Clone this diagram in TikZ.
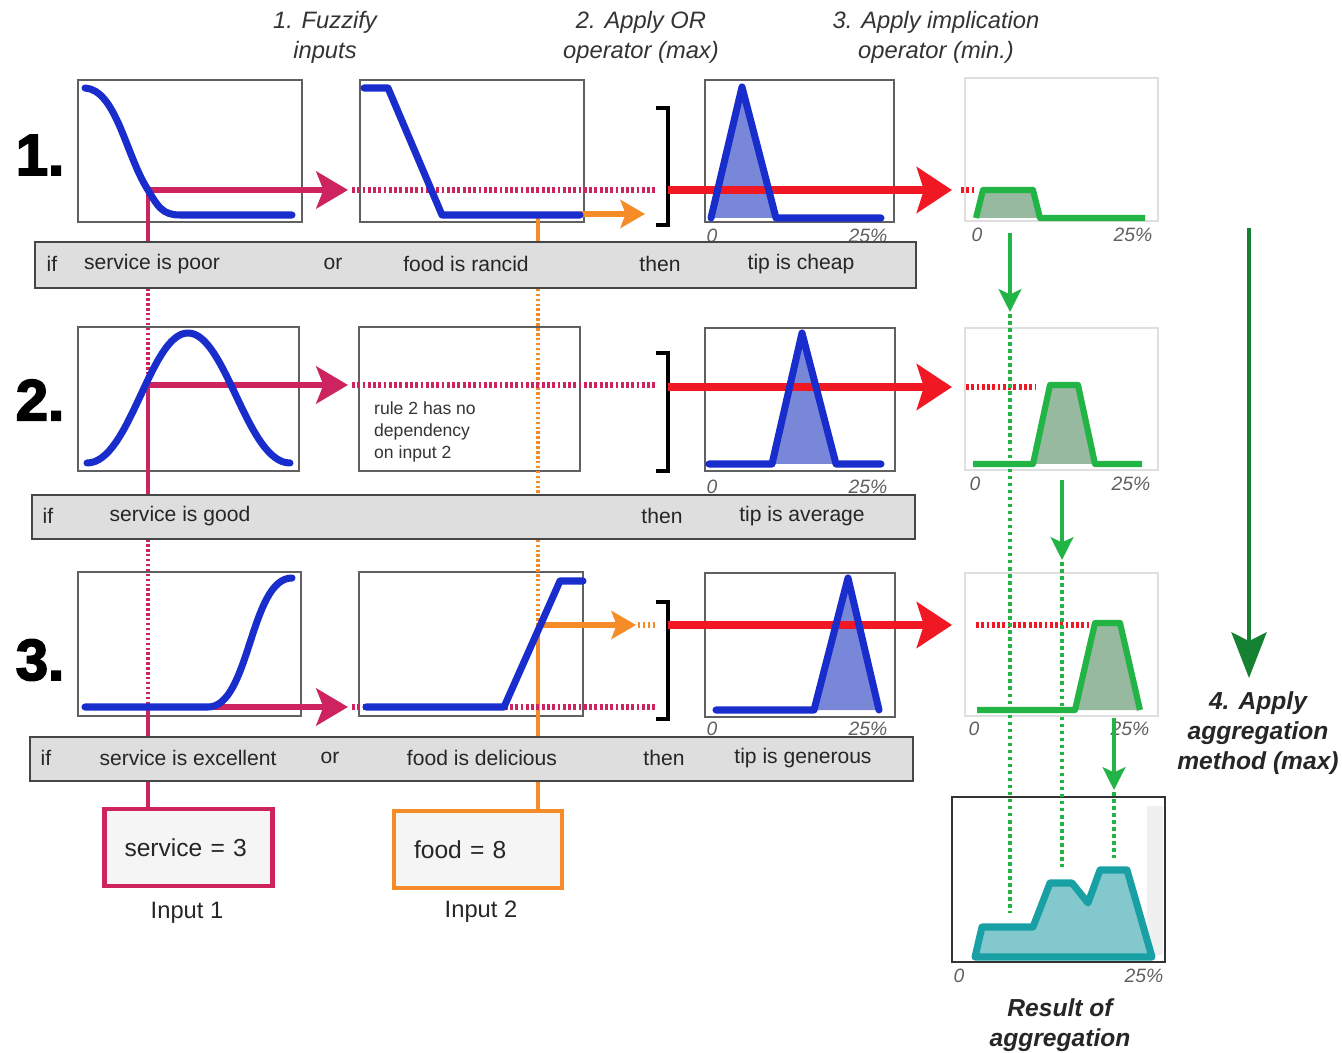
\documentclass[tikz,border=0pt]{standalone}
\usepackage{fontspec}
\setmainfont{Liberation Sans}
\newfontfamily\heavyfont{Liberation Sans Bold}[FakeBold=3]
\usetikzlibrary{arrows.meta, positioning}
\definecolor{mfblue}{RGB}{25,45,205}
\definecolor{mffill}{RGB}{120,135,215}
\definecolor{srvcol}{RGB}{205,35,95}
\definecolor{foodcol}{RGB}{245,140,40}
\definecolor{tipred}{RGB}{240,25,35}
\definecolor{aggreen}{RGB}{35,180,70}
\definecolor{agfill}{RGB}{150,185,160}
\definecolor{darkgreen}{RGB}{20,130,50}
\definecolor{resteal}{RGB}{25,160,165}
\definecolor{resfill}{RGB}{130,200,205}
\definecolor{barfill}{RGB}{222,222,222}
\tikzset{
  plotbox/.style={draw=gray!75!black, line width=0.9pt, fill=white},
  outbox/.style={draw=gray!25, line width=0.8pt, fill=white},
  rulebar/.style={draw=gray!55!black, line width=1.2pt, fill=barfill},
  ruletext/.style={font=\fontsize{12}{14}\selectfont, text=black!85},
  hdr/.style={font=\fontsize{13.5}{17}\selectfont\itshape, align=center, text=black!80},
  rownum/.style={font=\heavyfont\fontsize{33}{33}\selectfont},
  axlbl/.style={font=\fontsize{11}{11}\selectfont\itshape, text=gray!75!black},
  mf/.style={mfblue, line width=4pt, line cap=round, line join=round},
  agg/.style={aggreen, line width=3.5pt, line join=round},
  srvline/.style={srvcol, line width=1.8pt},
  srvdots/.style={srvcol, line width=1.8pt, dash pattern=on 1.4pt off 1.4pt},
  srvarrow/.style={srvcol, line width=3.6pt, -{Stealth[length=18pt, width=21pt, inset=4pt]}},
  srvhdots/.style={srvcol, line width=3pt, dash pattern=on 1.6pt off 1.4pt},
  foodline/.style={foodcol, line width=1.8pt},
  fooddots/.style={foodcol, line width=1.8pt, dash pattern=on 1.4pt off 1.4pt},
  foodarrow/.style={foodcol, line width=3pt, -{Stealth[length=14pt, width=16pt, inset=3pt]}},
  redarrow/.style={tipred, line width=4.5pt, -{Stealth[length=20pt, width=26pt, inset=4pt]}},
  reddots/.style={tipred, line width=3pt, dash pattern=on 1.6pt off 1.4pt},
  bracket/.style={black, line width=2.8pt},
  greenarrow/.style={aggreen, line width=2pt, -{Stealth[length=13pt, width=13pt, inset=3pt]}},
  greendots/.style={aggreen, line width=2.4pt, dash pattern=on 2pt off 2pt},
  inbox/.style={fill=gray!8, line width=2.5pt, minimum width=3.36cm, minimum height=1.54cm,
    text width=2.56cm, inner xsep=0.4cm, align=left, font=\fontsize{14}{16}\selectfont, text=black!85}
}

\begin{document}
\begin{tikzpicture}[x=0.02cm, y=-0.02cm]
    \fill[white] (0,0) rectangle (1342,1053);
    \useasboundingbox (0,0) rectangle (1342,1053);

    % Step headers
    \node (h1) [hdr] at (325,37) {1. Fuzzify\\inputs};
    \node (h2) [hdr] at (641,37) {2. Apply OR\\operator (max)};
    \node (h3) [hdr] at (936,37) {3. Apply implication\\operator (min.)};

    % Row numbers
    \node (n1) [rownum] at (40,155) {1.};
    \node (n2) [rownum] at (40,400) {2.};
    \node (n3) [rownum] at (40,660) {3.};

    % Plot boxes
    \draw[plotbox] (78,80) rectangle (302,222);
    \draw[plotbox] (360,80) rectangle (584,222);
    \draw[plotbox] (705,80) rectangle (894,222);
    \draw[outbox] (965,78) rectangle (1158,221);
    \draw[plotbox] (78,327) rectangle (299,471);
    \draw[plotbox] (359,327) rectangle (580,471);
    \draw[plotbox] (705,328) rectangle (895,471);
    \draw[outbox] (965,328) rectangle (1158,470);
    \draw[plotbox] (78,572) rectangle (301,716);
    \draw[plotbox] (359,572) rectangle (583,716);
    \draw[plotbox] (705,573) rectangle (895,717);
    \draw[outbox] (965,573) rectangle (1158,716);

    \node (dep) [font=\fontsize{10}{12.5}\selectfont, text=black!80, align=left, anchor=west] at (368,432) {rule 2 has no\\dependency\\on input 2};

    % Input boxes
    \node (in1) [inbox, draw=srvcol] at (188.5,847.5) {service = 3};
    \node (in2) [inbox, draw=foodcol] at (478,849.5) {food = 8};
    \node (lb1) [font=\fontsize{13.5}{16}\selectfont, text=black!85] at (187,913) {Input 1};
    \node (lb2) [font=\fontsize{13.5}{16}\selectfont, text=black!85] at (481,912) {Input 2};

    \coordinate (s1) at (148,190);
    \coordinate (s2) at (148,385);
    \coordinate (s3) at (148,707);
    \coordinate (f1) at (538,215);
    \coordinate (f3) at (538,625);

    % Input lines
    \draw[srvdots] (s1) -- (in1.north -| s1);
    \draw[srvline] (s1) -- (148,243);
    \draw[srvline] (s2) -- (148,495);
    \draw[srvline] (s3) -- (in1.north -| s3);
    \draw[fooddots] (f1) -- (in2.north -| f1);
    \draw[foodline] (f1) -- (538,243);
    \draw[foodline] (f3) -- (in2.north -| f3);

    % Fuzzified values
    \draw[srvarrow] (s1) -- (348,190);
    \draw[srvhdots] (352,190) -- (656,190);
    \draw[foodarrow] (580,214) -- (645,214);
    \draw[srvarrow] (s2) -- (348,385);
    \draw[srvhdots] (352,385) -- (656,385);
    \draw[srvarrow] (s3) -- (348,707);
    \draw[srvhdots] (352,707) -- (656,707);
    \draw[foodarrow] (f3) -- (636,625);
    \draw[fooddots, line width=3pt] (638,625) -- (656,625);

    % Brackets
    \draw[bracket] (656,108) -- (668,108) -- (668,225) -- (656,225);
    \draw[bracket] (656,353) -- (668,353) -- (668,471) -- (656,471);
    \draw[bracket] (656,602) -- (668,602) -- (668,719) -- (656,719);

    % Consequent fills
    \fill[mffill] (711,218) -- (742,87) -- (776,218) -- cycle;
    \fill[mffill] (772,464) -- (802,333) -- (836,464) -- cycle;
    \fill[mffill] (814,710) -- (848,578) -- (879,710) -- cycle;

    % Implication
    \draw[redarrow] (668,190) -- (952,190);
    \draw[redarrow] (668,387) -- (952,387);
    \draw[redarrow] (668,625) -- (952,625);
    \draw[reddots] (961,190) -- (976,190);
    \draw[reddots] (966,387) -- (1035,387);
    \draw[reddots] (976,625) -- (1089,625);

    % Membership functions
    \draw[mf] (85,88) .. controls (115,90) and (125,150) .. (145,185) .. controls (158,207) and (162,215) .. (180,215) -- (292,215);
    \draw[mf] (364,88) -- (388,88) -- (442,215) -- (580,215);
    \draw[mf] (87,463) .. controls (130,463) and (150,333) .. (188,333) .. controls (226,333) and (247,463) .. (290,463);
    \draw[mf] (85,707) -- (208,707) .. controls (250,707) and (250,578) .. (292,578);
    \draw[mf] (366,707) -- (504,707) -- (560,581) -- (583,581);
    \draw[mf] (711,218) -- (742,87) -- (776,218) -- (881,218);
    \draw[mf] (709,464) -- (772,464) -- (802,333) -- (836,464) -- (881,464);
    \draw[mf] (716,710) -- (814,710) -- (848,578) -- (879,710);

    % Clipped outputs
    \fill[agfill] (979,218) -- (984,191) -- (1032,191) -- (1039,218) -- cycle;
    \draw[agg] (976,218) -- (983,190) -- (1033,190) -- (1040,218) -- (1145,218);
    \fill[agfill] (1035,464) -- (1051,386) -- (1077,386) -- (1094,464) -- cycle;
    \draw[agg] (973,464) -- (1033,464) -- (1050,385) -- (1078,385) -- (1095,464) -- (1142,464);
    \fill[agfill] (1077,710) -- (1096,624) -- (1120,624) -- (1139,710) -- cycle;
    \draw[agg] (977,710) -- (1075,710) -- (1095,623) -- (1120,623) -- (1140,710);

    % Axis labels
    \node (c1a) [axlbl] at (712,236) {0};
    \node (c1b) [axlbl] at (868,236) {25\%};
    \node (d1a) [axlbl] at (977,235) {0};
    \node (d1b) [axlbl] at (1133,235) {25\%};
    \node (c2a) [axlbl] at (712,487) {0};
    \node (c2b) [axlbl] at (868,487) {25\%};
    \node (d2a) [axlbl] at (975,484) {0};
    \node (d2b) [axlbl] at (1131,484) {25\%};
    \node (c3a) [axlbl] at (712,729) {0};
    \node (c3b) [axlbl] at (868,729) {25\%};
    \node (d3a) [axlbl] at (974,729) {0};
    \node (d3b) [axlbl] at (1130,729) {25\%};

    % Rule bars
    \draw[rulebar] (35,242) rectangle (916,288);
    \node (r1if) [ruletext] at (52,264) {if};
    \node (r1a) [ruletext] at (152,264) {service is poor};
    \node (r1or) [ruletext] at (333,264) {or};
    \node (r1b) [ruletext] at (466,264) {food is rancid};
    \node (r1th) [ruletext] at (660,264) {then};
    \node (r1c) [ruletext] at (801,264) {tip is cheap};
    \draw[rulebar] (32,495) rectangle (915,539);
    \node (r2if) [ruletext] at (48,516) {if};
    \node (r2a) [ruletext] at (180,516) {service is good};
    \node (r2th) [ruletext] at (662,516) {then};
    \node (r2c) [ruletext] at (802,516) {tip is average};
    \draw[rulebar] (30,737) rectangle (913,781);
    \node (r3if) [ruletext] at (46,758) {if};
    \node (r3a) [ruletext] at (188,758) {service is excellent};
    \node (r3or) [ruletext] at (330,758) {or};
    \node (r3b) [ruletext] at (482,758) {food is delicious};
    \node (r3th) [ruletext] at (664,758) {then};
    \node (r3c) [ruletext] at (803,758) {tip is generous};

    % Aggregation
    \draw[black!80, line width=1pt, fill=white] (952,797) rectangle (1165,962);
    \fill[gray!12] (1147,806) rectangle (1163,955);
    \filldraw[resteal, fill=resfill, line width=4pt, line join=round] (975,957) -- (982,927) -- (1033,927) -- (1050,883) -- (1072,883) -- (1088,903) -- (1100,870) -- (1127,870) -- (1152,957) -- cycle;
    \draw[greenarrow] (1010,233) -- (1010,312);
    \draw[greendots] (1010,314) -- (1010,913);
    \draw[greenarrow] (1062,480) -- (1062,560);
    \draw[greendots] (1062,562) -- (1062,867);
    \draw[greenarrow] (1114,718) -- (1114,790);
    \draw[greendots] (1114,792) -- (1114,858);
    \node (e0) [axlbl] at (959,976) {0};
    \node (e25) [axlbl] at (1144,976) {25\%};
    \node (res) [font=\fontsize{14}{17}\selectfont\bfseries\itshape, align=center, text=black!85] at (1060,1025) {Result of\\aggregation};

    \draw[darkgreen, line width=2.2pt, -{Stealth[length=26pt, width=20pt, inset=5pt]}] (1249,228) -- (1249,678);
    \node (h4) [font=\fontsize{14}{17}\selectfont\bfseries\itshape, align=center, text=black!85] at (1258,733) {4. Apply\\aggregation\\method (max)};
\end{tikzpicture}
\end{document}
